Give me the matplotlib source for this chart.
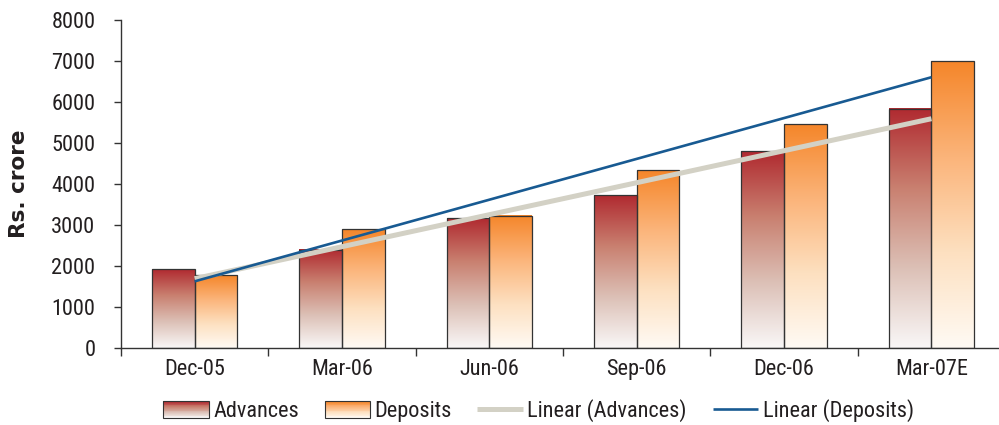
import numpy as np
import matplotlib.pyplot as plt
from matplotlib.colors import LinearSegmentedColormap
from matplotlib.patches import Rectangle, Patch
from matplotlib.legend_handler import HandlerBase

# quarterly figures, Rs. crore
periods = ['Dec-05', 'Mar-06', 'Jun-06', 'Sep-06', 'Dec-06', 'Mar-07E']
advances = [1920, 2400, 3170, 3730, 4800, 5830]
deposits = [1780, 2900, 3220, 4340, 5460, 6990]

narrow = ['Roboto Condensed', 'Archivo Narrow', 'Barlow Semi Condensed', 'DejaVu Sans']
text_col = '#231f20'

# bottom (0) -> top (1) shading for each series
adv_cmap = LinearSegmentedColormap.from_list(
    'adv', ['#f9f7f7', '#dcc0b6', '#c98070', '#b02a30'])
dep_cmap = LinearSegmentedColormap.from_list(
    'dep', ['#fffaf4', '#fde0c0', '#fbb47a', '#f5862a'])


class GradientHandler(HandlerBase):
    def __init__(self, cmap, n=20):
        super().__init__()
        self.cmap = cmap
        self.n = n

    def create_artists(self, legend, orig_handle, xdescent, ydescent,
                       width, height, fontsize, trans):
        arts = []
        for i in range(self.n):
            y0 = -ydescent + height * i / self.n
            arts.append(Rectangle((-xdescent, y0), width, height / self.n,
                                  facecolor=self.cmap(i / (self.n - 1)),
                                  edgecolor='none', transform=trans))
        arts.append(Rectangle((-xdescent, -ydescent), width, height,
                              fill=False, edgecolor='#333333', lw=0.8,
                              transform=trans))
        return arts


fig = plt.figure(figsize=(9.99, 4.25), dpi=100)
ax = fig.add_axes([0.1211, 0.1812, 0.885, 0.7717])

x = np.arange(len(periods))
w = 0.29
grad = np.linspace(0, 1, 256).reshape(-1, 1)

for xs, vals, cmap in [(x - w / 2, advances, adv_cmap), (x + w / 2, deposits, dep_cmap)]:
    for xc, v in zip(xs, vals):
        ax.imshow(grad, extent=[xc - w / 2, xc + w / 2, 0, v], origin='lower',
                  cmap=cmap, aspect='auto', zorder=1, interpolation='bilinear')
    ax.bar(xs, vals, width=w, facecolor='none', edgecolor='#333333',
           linewidth=0.9, zorder=2)

# linear trend lines over the category positions
fa = np.polyfit(x, advances, 1)
fd = np.polyfit(x, deposits, 1)
ln_adv, = ax.plot(x, np.polyval(fa, x), color='#d3d1c5', lw=3.6,
                  solid_capstyle='butt', zorder=3, label='Linear (Advances)')
ln_dep, = ax.plot(x, np.polyval(fd, x), color='#185a92', lw=1.9,
                  solid_capstyle='butt', zorder=4, label='Linear (Deposits)')

ax.set_xlim(-0.5, len(periods) - 0.5)
ax.set_ylim(0, 8000)
ax.set_yticks(np.arange(0, 8001, 1000))

# tick marks sit between categories, labels at the centres
ax.set_xticks(np.arange(-0.5, len(periods), 1.0))
ax.set_xticklabels([])
ax.set_xticks(x, minor=True)
ax.set_xticklabels(periods, minor=True)
ax.tick_params(axis='x', which='major', direction='out', length=6,
               width=1.0, color='#333333')
ax.tick_params(axis='x', which='minor', length=0, pad=8)
ax.tick_params(axis='y', direction='out', length=5, width=1.0,
               color='#333333', pad=13.5)

for lab in ax.get_xticklabels(minor=True) + ax.get_yticklabels():
    lab.set_family(narrow)
    lab.set_fontsize(16)
    lab.set_color(text_col)

for side in ['top', 'right']:
    ax.spines[side].set_visible(False)
for side in ['left', 'bottom']:
    ax.spines[side].set_color('#333333')
    ax.spines[side].set_linewidth(1.0)

fig.text(0.0195, 1 - 184 / 425, 'Rs. crore', rotation=90, ha='center',
         va='center', fontsize=15.5, fontweight='bold', color=text_col,
         family='DejaVu Sans')

p_adv = Patch(label='Advances')
p_dep = Patch(label='Deposits')
fig.legend([p_adv, p_dep, ln_adv, ln_dep],
           ['Advances', 'Deposits', 'Linear (Advances)', 'Linear (Deposits)'],
           handler_map={p_adv: GradientHandler(adv_cmap),
                        p_dep: GradientHandler(dep_cmap)},
           loc='center', bbox_to_anchor=(0.539, 1 - 411 / 425), ncol=4,
           frameon=False, prop={'family': narrow, 'size': 16},
           handlelength=2.05, handleheight=0.8, handletextpad=0.2,
           columnspacing=1.15, labelcolor=text_col)

fig.savefig('out.png', dpi=100)
